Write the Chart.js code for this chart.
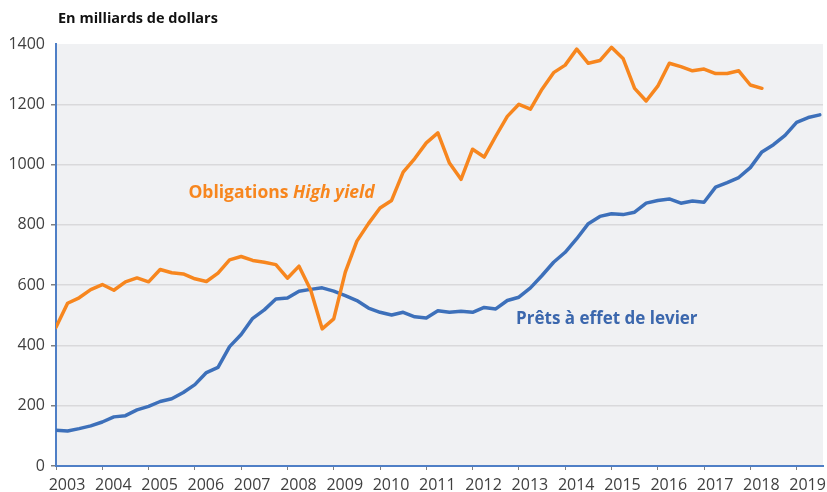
<!DOCTYPE html>
<html lang="fr">
<head>
<meta charset="utf-8">
<title>Obligations High yield et prêts à effet de levier</title>
<script src="https://cdn.jsdelivr.net/npm/chart.js@4.4.1/dist/chart.umd.min.js"></script>
<style>
    html, body { margin: 0; padding: 0; background: #fff; }
    #cadre { position: relative; width: 827px; height: 492px; }
</style>
</head>
<body>
<div id="cadre"><canvas id="graphique"></canvas></div>
<script>
// --- DONNÉES (trimestrielles, en milliards de dollars) ---
const anneeDebut = 2003;
const anneesAxe = [2003, 2004, 2005, 2006, 2007, 2008, 2009, 2010, 2011, 2012, 2013, 2014, 2015, 2016, 2017, 2018, 2019];
const graduationsY = [0, 200, 400, 600, 800, 1000, 1200, 1400];

// Obligations High yield : T1 2003 -> T2 2018
const highYield = [
    460, 540, 558, 585,      // 2003
    602, 583, 611, 624,      // 2004
    611, 652, 641, 637,      // 2005
    621, 612, 640, 684,      // 2006
    695, 682, 676, 668,      // 2007
    623, 663, 585, 455,      // 2008
    488, 643, 746, 804,      // 2009
    856, 881, 975, 1020,     // 2010
    1072, 1105, 1005, 951,   // 2011
    1051, 1025, 1094, 1160,  // 2012
    1200, 1184, 1250, 1305,  // 2013
    1330, 1383, 1336, 1345,  // 2014
    1389, 1352, 1253, 1211,  // 2015
    1260, 1336, 1325, 1311,  // 2016
    1317, 1302, 1302, 1311,  // 2017
    1264, 1253               // 2018
];

// Prêts à effet de levier : T1 2003 -> T3 2019
const pretsLevier = [
    119, 116, 124, 133,      // 2003
    146, 163, 167, 186,      // 2004
    198, 214, 223, 244,      // 2005
    270, 310, 327, 396,      // 2006
    436, 490, 518, 554,      // 2007
    557, 580, 586, 591,      // 2008
    580, 565, 549, 524,      // 2009
    510, 501, 510, 495,      // 2010
    491, 515, 510, 513,      // 2011
    510, 526, 521, 549,      // 2012
    560, 591, 632, 676,      // 2013
    709, 754, 804, 828,      // 2014
    837, 834, 842, 872,      // 2015
    881, 886, 872, 879,      // 2016
    875, 925, 940, 957,      // 2017
    990, 1042, 1066, 1097,   // 2018
    1140, 1156, 1165         // 2019
];

// --- COULEURS ---
const orange = '#f7861e';
const bleu = '#3d70ba';
const bleuAxe = '#4f7fc6';
const texteAxe = '#404040';

// valeurs -> points {x: année décimale, y}
function versPoints(valeurs) {
    return valeurs.map((v, i) => ({ x: anneeDebut + i / 4, y: v }));
}

// Fond gris de la zone de tracé + titre + libellés des séries
const decor = {
    id: 'decor',
    beforeDraw(chart) {
        const { ctx, chartArea } = chart;
        ctx.save();
        ctx.fillStyle = '#f0f1f3';
        ctx.fillRect(chartArea.left, chartArea.top, chartArea.right - chartArea.left, chartArea.bottom - chartArea.top);
        ctx.restore();
    },
    afterDraw(chart) {
        const { ctx, scales } = chart;
        const x = scales.x, y = scales.y;
        ctx.save();
        ctx.textBaseline = 'alphabetic';
        ctx.textAlign = 'left';

        // Titre
        ctx.fillStyle = '#111';
        ctx.font = 'bold 14.5px "Open Sans"';
        ctx.fillText('En milliards de dollars', 58, 23);

        // Libellé orange : "Obligations" + "High yield" en italique
        let px = x.getPixelForValue(2005.86);
        let py = y.getPixelForValue(890);
        ctx.fillStyle = orange;
        ctx.font = 'bold 17.5px "Open Sans"';
        const mot = 'Obligations ';
        ctx.fillText(mot, px, py);
        px += ctx.measureText(mot).width;
        ctx.font = 'italic bold 17.5px "Open Sans"';
        ctx.fillText('High yield', px, py);

        // Libellé bleu
        ctx.fillStyle = '#3b67ad';
        ctx.font = 'bold 17px "Open Sans"';
        ctx.fillText('Prêts à effet de levier', x.getPixelForValue(2012.94), y.getPixelForValue(472));
        ctx.restore();
    }
};

const ctx = document.getElementById('graphique').getContext('2d');
const graphique = new Chart(ctx, {
    type: 'line',
    data: {
        datasets: [
            {
                label: 'Obligations High yield',
                data: versPoints(highYield),
                borderColor: orange,
                borderWidth: 3.5,
                pointRadius: 0,
                borderJoinStyle: 'round',
                borderCapStyle: 'round',
                tension: 0,
                fill: false
            },
            {
                label: 'Prêts à effet de levier',
                data: versPoints(pretsLevier),
                borderColor: bleu,
                borderWidth: 3.5,
                pointRadius: 0,
                borderJoinStyle: 'round',
                borderCapStyle: 'round',
                tension: 0,
                fill: false
            }
        ]
    },
    options: {
        responsive: true,
        maintainAspectRatio: false,
        animation: false,
        layout: { padding: { top: 44, right: 4, left: 0, bottom: 0 } },
        plugins: {
            legend: { display: false },
            tooltip: { enabled: false }
        },
        scales: {
            x: {
                type: 'linear',
                min: anneeDebut,
                max: 2019.57,
                afterFit: (scale) => { scale.height = 26; },
                afterBuildTicks: (scale) => {
                    scale.ticks = anneesAxe.map(a => ({ value: a }));
                },
                border: { display: true, color: bleuAxe, width: 2 },
                grid: {
                    drawOnChartArea: false,
                    drawTicks: true,
                    tickLength: 4,
                    tickColor: '#7f7f7f'
                },
                ticks: {
                    autoSkip: false,
                    maxRotation: 0,
                    padding: 6,
                    labelOffset: 11,
                    color: texteAxe,
                    font: { family: 'Open Sans', size: 16 },
                    callback: (v) => String(v)
                }
            },
            y: {
                min: 0,
                max: 1400,
                afterFit: (scale) => { scale.width = 56; },
                afterBuildTicks: (scale) => {
                    scale.ticks = graduationsY.map(v => ({ value: v }));
                },
                border: { display: true, color: bleuAxe, width: 2 },
                grid: {
                    color: (c) => (c.tick && c.tick.value === 1400 ? 'rgba(0,0,0,0)' : '#d9d9db'),
                    tickColor: (c) => (c.tick && c.tick.value === 1400 ? 'rgba(0,0,0,0)' : '#7f7f7f'),
                    lineWidth: 1.5,
                    tickLength: 5
                },
                ticks: {
                    padding: 6,
                    color: texteAxe,
                    font: { family: 'Open Sans', size: 16 },
                    callback: (v) => String(v)
                }
            }
        }
    },
    plugins: [decor]
});
</script>
</body>
</html>
